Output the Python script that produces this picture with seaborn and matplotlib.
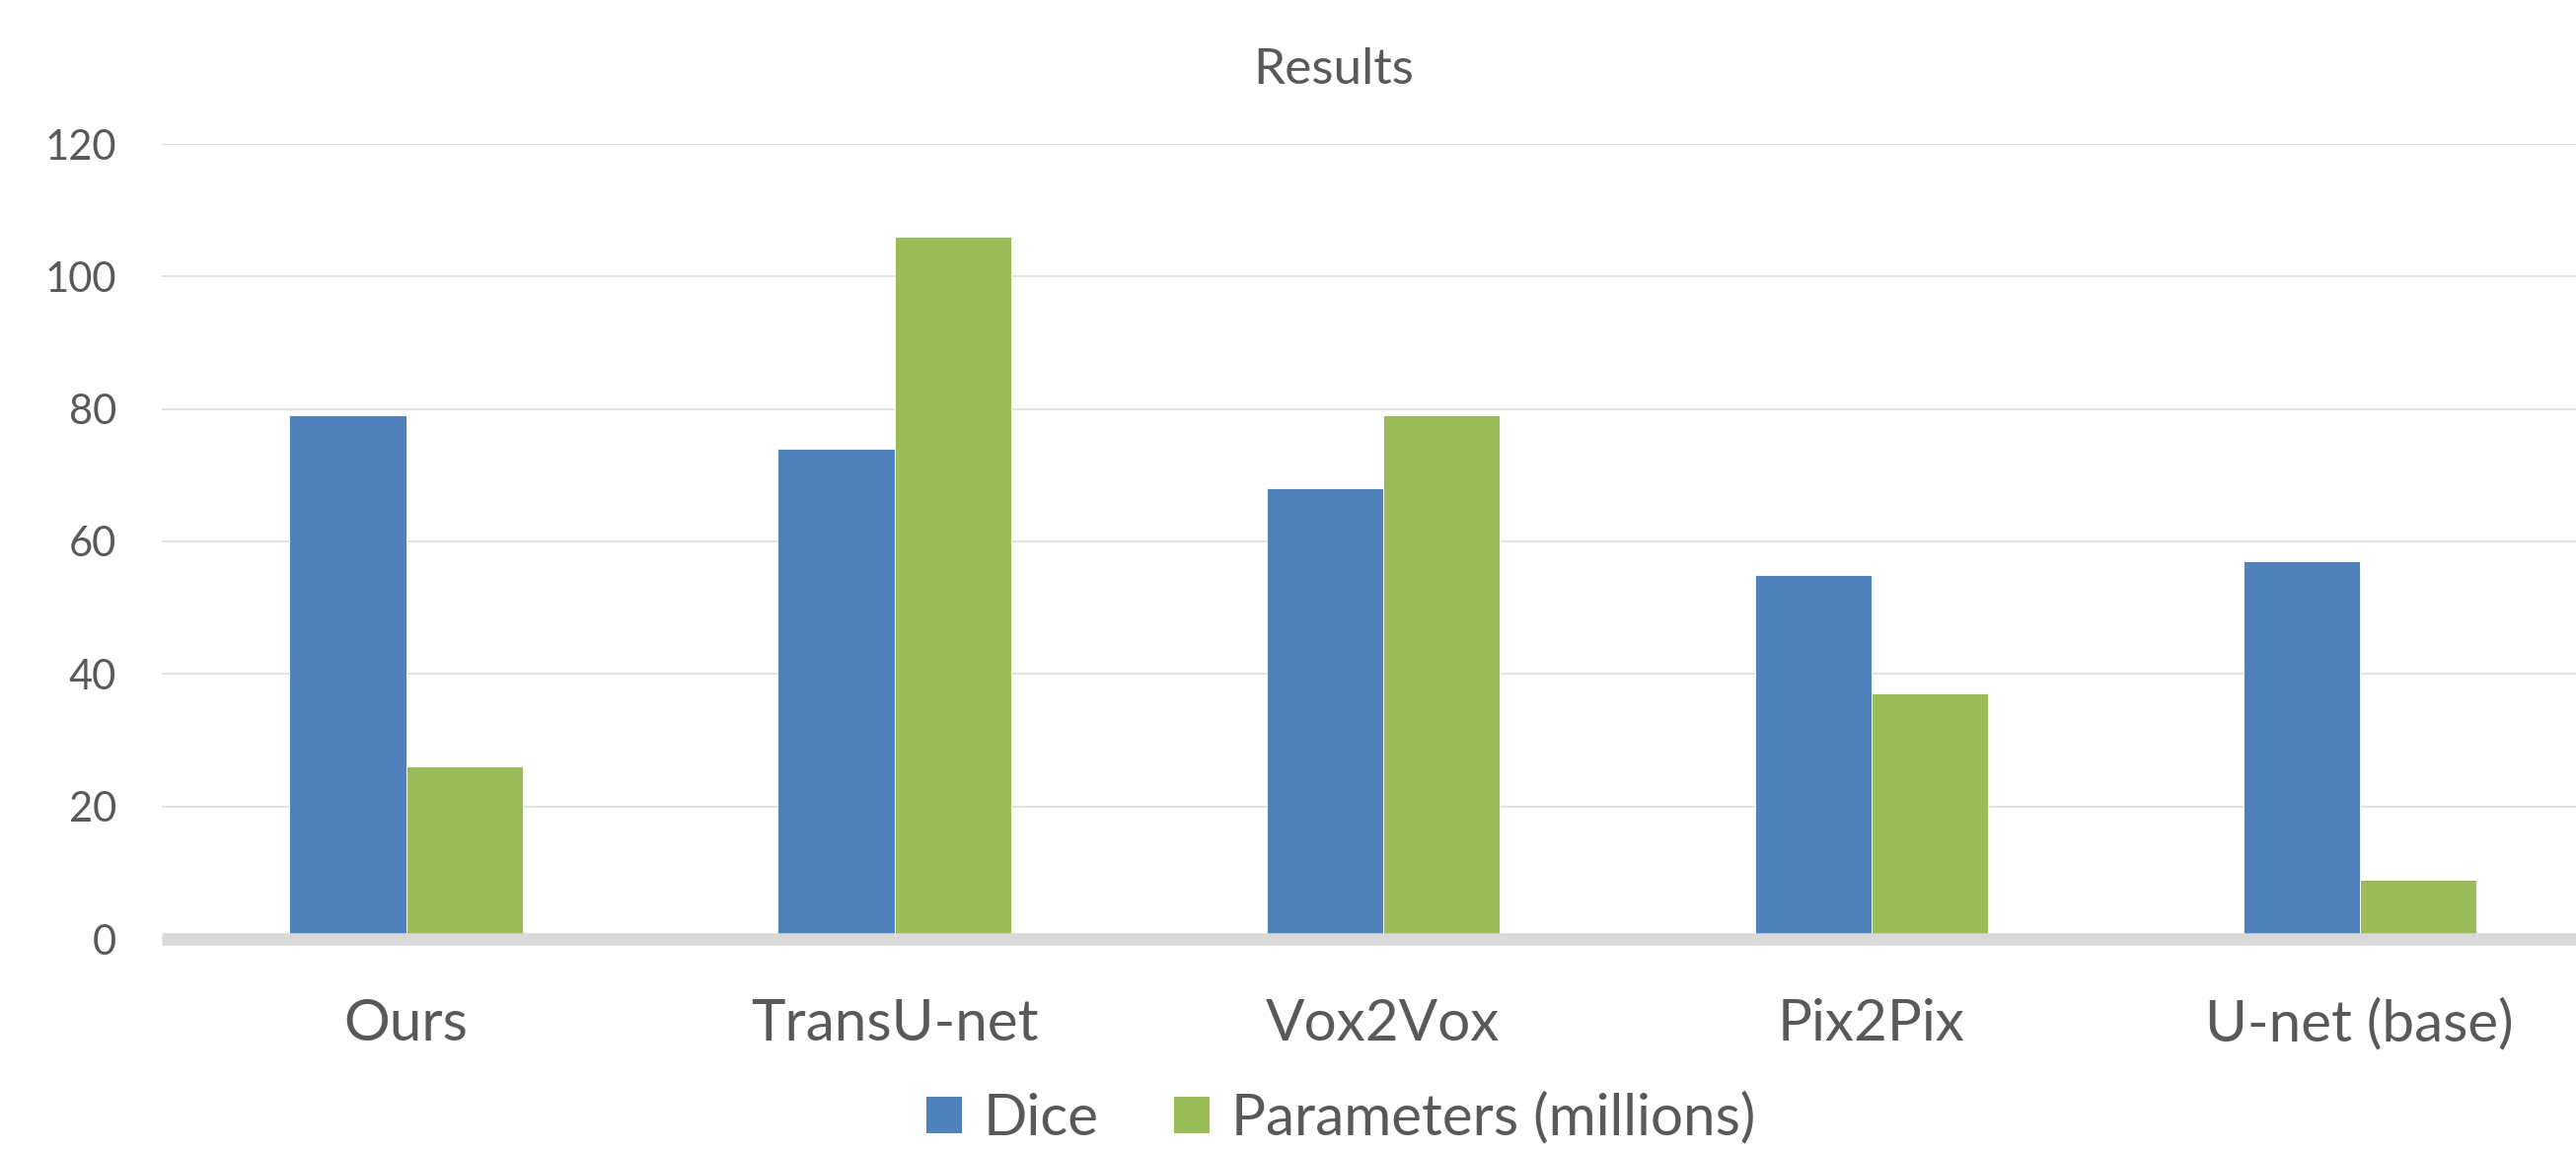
import matplotlib
matplotlib.use("Agg")
import matplotlib.pyplot as plt
from matplotlib.patches import Patch
import seaborn as sns
import pandas as pd

# ---- data ----
categories = ["Ours", "TransU-net", "Vox2Vox", "Pix2Pix", "U-net (base)"]
dice = [79, 74, 68, 55, 57]
params = [26, 106, 79, 37, 9]
series_names = ["Dice", "Parameters (millions)"]
y_ticks = [0, 20, 40, 60, 80, 100, 120]
title = "Results"

colors = ["#4F81BD", "#9BBB59"]
text_color = "#595959"
grid_color = "#D9D9D9"

sns.set_theme(style="white")
plt.rcParams["font.family"] = ["Lato", "DejaVu Sans"]

df = pd.DataFrame({
    "category": categories * 2,
    "series": [series_names[0]] * len(categories) + [series_names[1]] * len(categories),
    "value": dice + params,
})

W, H = 2611, 1166
fig = plt.figure(figsize=(W / 100, H / 100), dpi=100)
ax = fig.add_axes([164 / W, 214 / H, 1 - 164 / W, 806 / H])

sns.barplot(data=df, x="category", y="value", hue="series", order=categories,
            hue_order=series_names, palette=colors, width=0.477, saturation=1,
            edgecolor="white", linewidth=0.6, ax=ax, legend=False, zorder=2)

ax.set_xlim(-0.5, 4.443)
ax.set_ylim(0, 120)
ax.set_yticks(y_ticks)
ax.set_yticklabels([str(t) for t in y_ticks])
ax.set_xlabel("")
ax.set_ylabel("")
for s in ax.spines.values():
    s.set_visible(False)
ax.yaxis.grid(True, color=grid_color, linewidth=1.1, zorder=0)
ax.xaxis.grid(False)
ax.set_axisbelow(True)
ax.tick_params(axis="y", length=0, pad=33, labelsize=30, labelcolor=text_color)
ax.tick_params(axis="x", length=0, pad=43, labelsize=42, labelcolor=text_color)
ax.axhline(0, color=grid_color, linewidth=9, zorder=3, clip_on=False,
           solid_capstyle="butt")

fig.text(1352 / W, 1 - 85 / H, title, ha="center", va="baseline",
         fontsize=37, color=text_color)

handles = [Patch(facecolor=c, edgecolor="none") for c in colors]
leg = fig.legend(handles, series_names, loc="center", bbox_to_anchor=(1359 / W, 32 / H),
                 ncol=2, frameon=False, fontsize=42, handlelength=0.617, handleheight=0.617,
                 handletextpad=0.38, columnspacing=1.3, borderpad=0, borderaxespad=0)
for t in leg.get_texts():
    t.set_color(text_color)

fig.savefig("out.png", dpi=100)
